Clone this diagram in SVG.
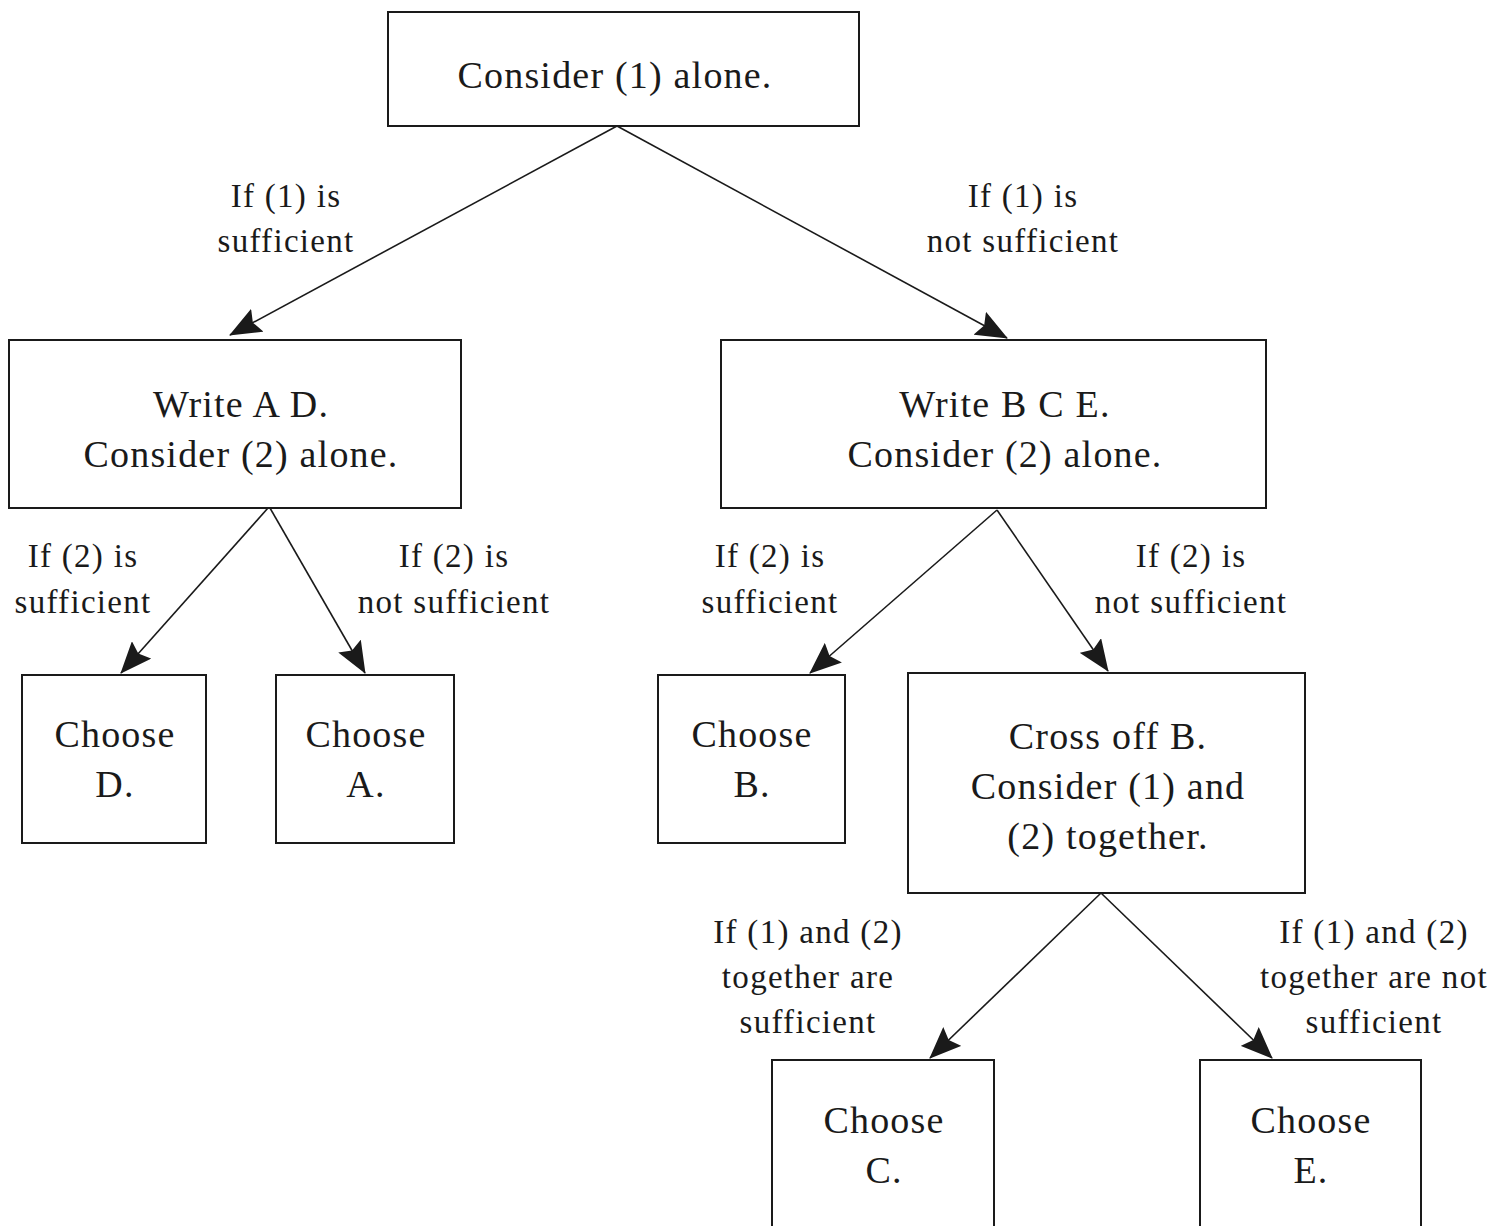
<svg xmlns="http://www.w3.org/2000/svg" width="1496" height="1226" viewBox="0 0 1496 1226">
  <style>
    .box { fill: #ffffff; stroke: #1a1a1a; stroke-width: 2; }
    .edge { fill: none; stroke: #1a1a1a; stroke-width: 1.6; marker-end: url(#arrow); }
    .t { font-family: "Liberation Serif", "Times New Roman", serif; font-size: 38px; letter-spacing: 1.2px; fill: #1a1a1a; text-anchor: middle; }
    .lbl { font-family: "Liberation Serif", "Times New Roman", serif; font-size: 33px; letter-spacing: 1.3px; fill: #1a1a1a; text-anchor: middle; }
  </style>
  <defs>
    <marker id="arrow" viewBox="0 0 32 26" refX="31" refY="13" markerWidth="32" markerHeight="26" markerUnits="userSpaceOnUse" orient="auto">
      <path d="M0,0 L32,13 L0,26 L5,13 z" fill="#1a1a1a"/>
    </marker>
  </defs>
  <rect width="1496" height="1226" fill="#ffffff"/>

  <!-- connectors -->
  <g id="connectors">
    <line class="edge" x1="617" y1="126" x2="230" y2="335"/>
    <line class="edge" x1="617" y1="126" x2="1007" y2="338"/>
    <line class="edge" x1="268" y1="508" x2="121" y2="673"/>
    <line class="edge" x1="270" y1="508" x2="365" y2="673"/>
    <line class="edge" x1="997" y1="510" x2="810" y2="673"/>
    <line class="edge" x1="997" y1="510" x2="1108" y2="671"/>
    <line class="edge" x1="1101" y1="893" x2="930" y2="1058"/>
    <line class="edge" x1="1101" y1="893" x2="1272" y2="1058"/>
  </g>

  <!-- edge labels -->
  <g id="labels">
    <text class="lbl" x="286" y="207">If (1) is</text>
    <text class="lbl" x="286" y="252">sufficient</text>
    <text class="lbl" x="1023" y="207">If (1) is</text>
    <text class="lbl" x="1023" y="252">not sufficient</text>
    <text class="lbl" x="83" y="567">If (2) is</text>
    <text class="lbl" x="83" y="613">sufficient</text>
    <text class="lbl" x="454" y="567">If (2) is</text>
    <text class="lbl" x="454" y="613">not sufficient</text>
    <text class="lbl" x="770" y="567">If (2) is</text>
    <text class="lbl" x="770" y="613">sufficient</text>
    <text class="lbl" x="1191" y="567">If (2) is</text>
    <text class="lbl" x="1191" y="613">not sufficient</text>
    <text class="lbl" x="808" y="943">If (1) and (2)</text>
    <text class="lbl" x="808" y="988">together are</text>
    <text class="lbl" x="808" y="1033">sufficient</text>
    <text class="lbl" x="1374" y="943">If (1) and (2)</text>
    <text class="lbl" x="1374" y="988">together are not</text>
    <text class="lbl" x="1374" y="1033">sufficient</text>
  </g>

  <!-- nodes -->
  <g id="start">
    <rect class="box" x="388" y="12" width="471" height="114"/>
    <text class="t" x="615" y="88">Consider (1) alone.</text>
  </g>
  <g id="write-ad">
    <rect class="box" x="9" y="340" width="452" height="168"/>
    <text class="t" x="241" y="417">Write A D.</text>
    <text class="t" x="241" y="467">Consider (2) alone.</text>
  </g>
  <g id="write-bce">
    <rect class="box" x="721" y="340" width="545" height="168"/>
    <text class="t" x="1005" y="417">Write B C E.</text>
    <text class="t" x="1005" y="467">Consider (2) alone.</text>
  </g>
  <g id="choose-d">
    <rect class="box" x="22" y="675" width="184" height="168"/>
    <text class="t" x="115" y="747">Choose</text>
    <text class="t" x="115" y="797">D.</text>
  </g>
  <g id="choose-a">
    <rect class="box" x="276" y="675" width="178" height="168"/>
    <text class="t" x="366" y="747">Choose</text>
    <text class="t" x="366" y="797">A.</text>
  </g>
  <g id="choose-b">
    <rect class="box" x="658" y="675" width="187" height="168"/>
    <text class="t" x="752" y="747">Choose</text>
    <text class="t" x="752" y="797">B.</text>
  </g>
  <g id="cross-off-b">
    <rect class="box" x="908" y="673" width="397" height="220"/>
    <text class="t" x="1108" y="749">Cross off B.</text>
    <text class="t" x="1108" y="799">Consider (1) and</text>
    <text class="t" x="1108" y="849">(2) together.</text>
  </g>
  <g id="choose-c">
    <rect class="box" x="772" y="1060" width="222" height="180"/>
    <text class="t" x="884" y="1133">Choose</text>
    <text class="t" x="884" y="1183">C.</text>
  </g>
  <g id="choose-e">
    <rect class="box" x="1200" y="1060" width="221" height="180"/>
    <text class="t" x="1311" y="1133">Choose</text>
    <text class="t" x="1311" y="1183">E.</text>
  </g>
</svg>
